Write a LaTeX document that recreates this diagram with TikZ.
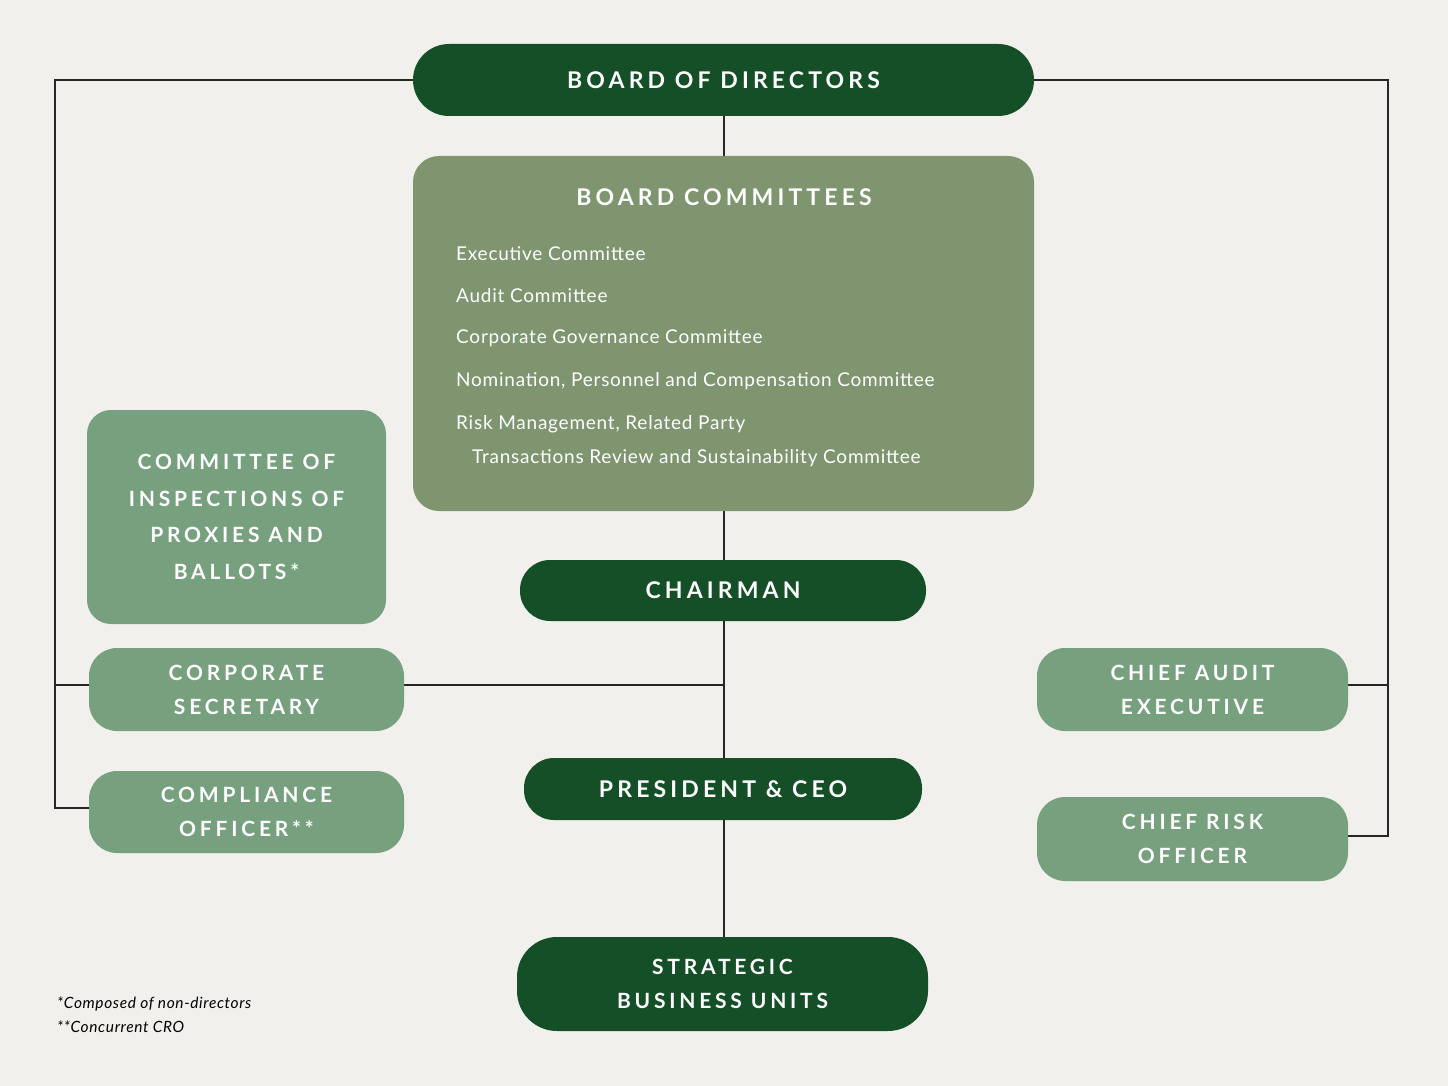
\documentclass[tikz,border=0pt]{standalone}
\usepackage{fontspec}
\setmainfont{Lato}
\newfontfamily\capsfont[LetterSpace=18]{Lato}
\newfontfamily\itemfont[LetterSpace=4]{Lato}
\definecolor{bg}{HTML}{F1F0EC}
\definecolor{dark}{HTML}{144F27}
\definecolor{mid}{HTML}{7E9570}
\definecolor{light}{HTML}{77A07F}
\begin{document}
\begin{tikzpicture}[x=1pt,y=-1pt,
  box/.style={draw=none,text=white,align=center,font=\capsfont\bfseries\fontsize{23}{36}\selectfont,inner sep=0pt},
  pill/.style={box,rounded corners=30pt,fill=dark},
  side/.style={box,rounded corners=28pt,fill=light,font=\capsfont\bfseries\fontsize{21}{34}\selectfont},
  ln/.style={draw=black!85,line width=1.1pt}]
\fill[bg] (0,0) rectangle (1448,1086);
\useasboundingbox (0,0) rectangle (1448,1086);
% lines first
\coordinate (c0) at (724,80);
\coordinate (lt) at (55,80);
\coordinate (lb) at (55,808);
\coordinate (lm) at (55,685);
\coordinate (cm) at (724,685);
\coordinate (rt) at (1388,80);
\coordinate (rb) at (1388,836);
\coordinate (rm) at (1388,685);
\coordinate (sbu) at (724,984);
\draw[ln] (c0) -- (sbu);
\draw[ln] (c0) -- (lt) -- (lb) -- (89,808);
\draw[ln] (lm) -- (cm);
\draw[ln] (c0) -- (rt) -- (rb) -- (1348,836);
\draw[ln] (rm) -- (1348,685);
% nodes
\node[pill,minimum width=621,minimum height=72,rounded corners=36pt] (board) at (723.5,80) {BOARD OF DIRECTORS};
\node[box,fill=mid,rounded corners=26pt,minimum width=621,minimum height=355] (comm) at (723.5,333.5) {};
\node[text=white,font=\capsfont\bfseries\fontsize{23}{28}\selectfont] (ctitle) at (724,197) {BOARD COMMITTEES};
\begin{scope}[every node/.style={text=white,font=\itemfont\fontsize{19}{24}\selectfont,anchor=west,inner sep=0pt}]
\node (i1) at (456,254) {Executive Committee};
\node (i2) at (456,296) {Audit Committee};
\node (i3) at (456,338) {Corporate Governance Committee};
\node (i4) at (456,381) {Nomination, Personnel and Compensation Committee};
\node (i5) at (456,424) {Risk Management, Related Party};
\node (i6) at (472,458) {Transactions Review and Sustainability Committee};
\end{scope}
\node[side,minimum width=299,minimum height=214,rounded corners=24pt,font=\capsfont\bfseries\fontsize{21}{36.5}\selectfont] (insp) at (236.5,517) {COMMITTEE OF\\INSPECTIONS OF\\PROXIES AND\\BALLOTS*};
\node[pill,minimum width=406,minimum height=61] (chair) at (723,590.5) {CHAIRMAN};
\node[side,minimum width=315,minimum height=83] (sec) at (246.5,689.5) {CORPORATE\\SECRETARY};
\node[side,minimum width=315,minimum height=82] (comp) at (246.5,812) {COMPLIANCE\\OFFICER**};
\node[pill,minimum width=398,minimum height=62] (ceo) at (723,789) {PRESIDENT \& CEO};
\node[pill,minimum width=411,minimum height=94,rounded corners=40pt,font=\capsfont\bfseries\fontsize{21}{34}\selectfont] (sbunode) at (722.5,984) {STRATEGIC\\BUSINESS UNITS};
\node[side,minimum width=311,minimum height=83] (cae) at (1192.5,689.5) {CHIEF AUDIT\\EXECUTIVE};
\node[side,minimum width=311,minimum height=84] (cro) at (1192.5,839) {CHIEF RISK\\OFFICER};
\node[anchor=west,align=left,font=\itemfont\itshape\fontsize{15.5}{24}\selectfont,inner sep=0pt] (fn) at (57,1015) {*Composed of non-directors\\**Concurrent CRO};
\end{tikzpicture}
\end{document}
